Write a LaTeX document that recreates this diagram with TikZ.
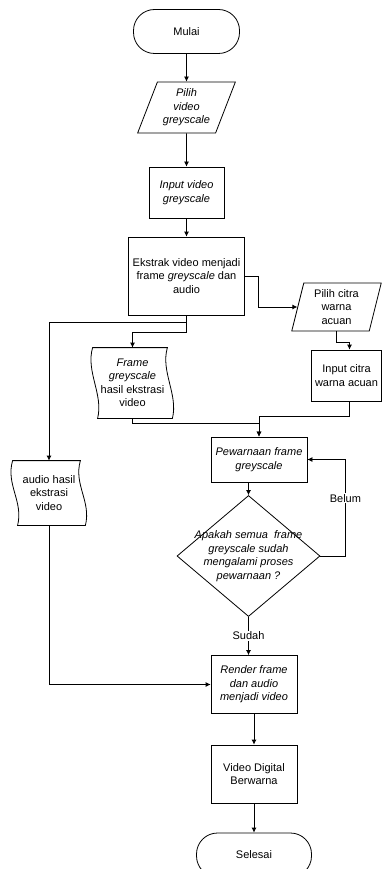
\documentclass[tikz,border=0pt]{standalone}
\usepackage{fontspec}
\setmainfont{Liberation Sans}
\usetikzlibrary{arrows.meta,shapes.geometric,positioning,calc}

% wavy left and right sides for the data nodes
\newcommand{\tapeborder}[1]{%
  \draw ([xshift=1pt]#1.north west) .. controls ([shift={(-6pt,-24pt)}]#1.north west) and ([shift={(12pt,24pt)}]#1.south west) .. ([xshift=6pt]#1.south west)
    -- ([xshift=-1pt]#1.south east) .. controls ([shift={(5pt,24pt)}]#1.south east) and ([shift={(-13pt,-24pt)}]#1.north east) .. ([xshift=-6pt]#1.north east) -- cycle;}

\begin{document}
\begin{tikzpicture}[x=1pt,y=1pt,>={Latex[length=5pt,width=5pt]},line width=0.8pt,
  font=\fontsize{11}{13.5}\selectfont,
  italictext/.style={font=\fontsize{11}{13.5}\selectfont\itshape},
  terminal/.style={rectangle,rounded corners=21pt,draw,minimum width=106pt,minimum height=44pt},
  process/.style={rectangle,draw,align=center,inner sep=1pt},
  io/.style={trapezium,draw,align=center,trapezium stretches=true,inner sep=1pt},
  datanode/.style={rectangle,align=center,inner sep=0pt},
  decision/.style={diamond,draw,inner sep=0pt,minimum width=143pt,minimum height=121pt},
  flowlabel/.style={fill=white,inner sep=1pt}]
  \useasboundingbox (0,0) rectangle (384,-869);

  \node[terminal] (mulai) at (186.5,-31.5) {Mulai};
  \node[io,italictext,trapezium left angle=67,trapezium right angle=113,minimum width=98pt,minimum height=51pt] (pilihvid)[below of=mulai,node distance=76pt] {Pilih\\video\\greyscale};
  \node[process,italictext,minimum width=75pt,minimum height=51pt] (inputvid)[below of=pilihvid,node distance=85pt] {Input video\\greyscale};
  \node[process,minimum width=116pt,minimum height=78pt] (ekstrak)[below of=inputvid,node distance=83.5pt] {Ekstrak video menjadi\\frame \textit{greyscale} dan\\audio};
  \node[io,trapezium left angle=77,trapezium right angle=103,minimum width=90pt,minimum height=48pt] (pilihcitra)[right of=ekstrak,node distance=150pt,yshift=-31pt] {Pilih citra\\warna\\acuan};
  \node[process,minimum width=70pt,minimum height=51pt] (inputcitra)[below of=pilihcitra,node distance=68.5pt,xshift=10pt] {Input citra\\warna acuan};
  \node[datanode,minimum width=81pt,minimum height=70pt] (framedoc)[below of=ekstrak,node distance=107pt,xshift=-54pt] {\textit{Frame}\\\textit{greyscale}\\hasil ekstrasi\\video};
  \node[datanode,minimum width=74pt,minimum height=64pt] (audiodoc)[below of=framedoc,node distance=110pt,xshift=-83.5pt] {audio hasil\\ekstrasi\\video};
  \node[process,italictext,minimum width=96pt,minimum height=45pt] (pewarnaan)[below of=framedoc,node distance=76.5pt,xshift=126.5pt] {Pewarnaan frame\\greyscale};
  \node[decision,label={[italictext,align=center]center:Apakah semua~ frame\\greyscale sudah\\mengalami proses\\pewarnaan ?}] (cek)[below of=pewarnaan,node distance=96.5pt,xshift=-10.5pt] {};
  \node[process,italictext,minimum width=86pt,minimum height=58pt] (render)[below of=cek,node distance=128.5pt,xshift=5.5pt] {Render frame\\dan audio\\menjadi video};
  \node[process,minimum width=86pt,minimum height=58pt] (videodig)[below of=render,node distance=89.5pt] {Video Digital\\Berwarna};
  \node[terminal,minimum width=115pt] (selesai)[below of=videodig,node distance=81pt] {Selesai};

  \tapeborder{framedoc}
  \tapeborder{audiodoc}

  \path[->] (mulai) edge (pilihvid);
  \path[->] (pilihvid) edge (inputvid);
  \path[->] (inputvid) edge (ekstrak);
  \draw[->] (ekstrak.east) -- ++(13,0) |- (pilihcitra.west);
  \draw[->] (pilihcitra.south) -- ++(0,-11) -| ([xshift=3pt]inputcitra.north);
  \draw[->] (ekstrak.south) -- ++(0,-7) -| (audiodoc.north);
  \draw[->] (ekstrak.south) -- ++(0,-17) -| (framedoc.north);
  \draw[->] (framedoc.south) -- ++(0,-5) -| (pewarnaan.north);
  \draw[->] ([xshift=3pt]inputcitra.south) -- ++(0,-15) -| (pewarnaan.north);
  \draw[->] (pewarnaan.south -| cek.north) -- (cek.north);
  \draw[->] (cek.east) -- ++(25,0) |- node[flowlabel,pos=0.3] {Belum} (pewarnaan.east);
  \draw[->] (cek.south) -- node[flowlabel] {Sudah} (cek.south |- render.north);
  \draw[->] (audiodoc.south) |- (render.west);
  \path[->] (render) edge (videodig);
  \path[->] (videodig) edge (selesai);
\end{tikzpicture}
\end{document}
